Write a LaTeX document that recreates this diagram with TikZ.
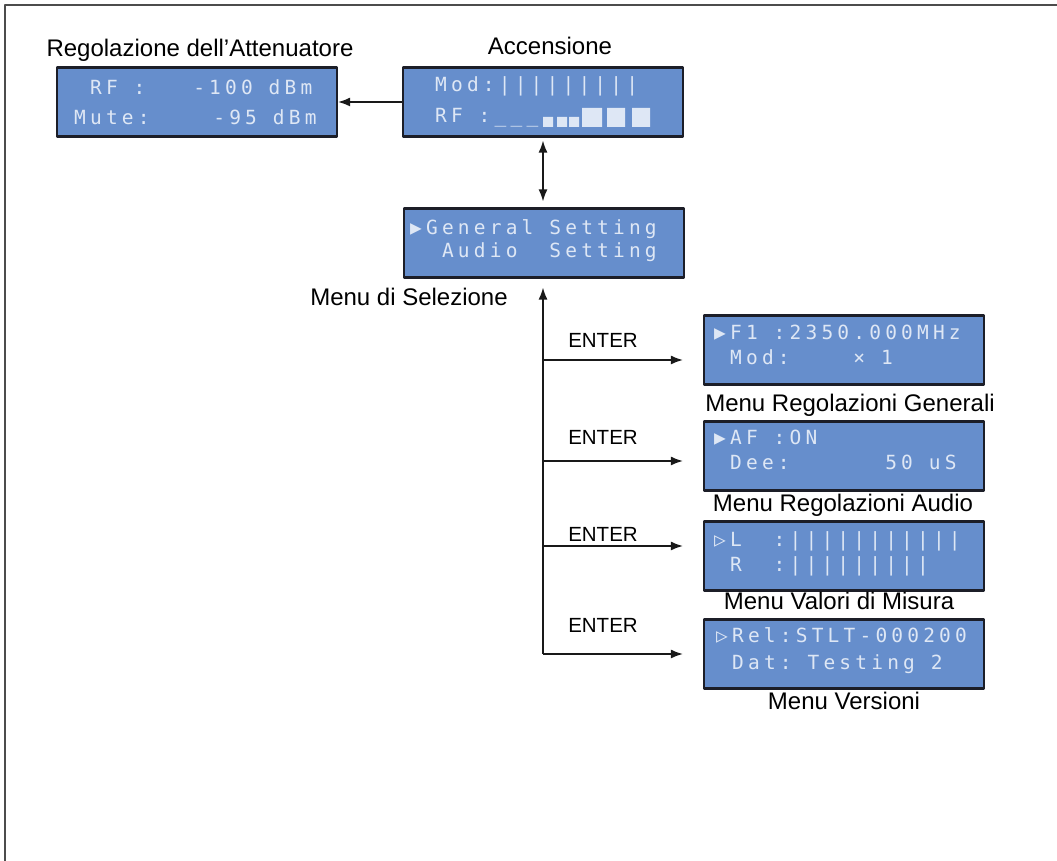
\documentclass[tikz,border=0pt]{standalone}
\usepackage{fontspec}
\setmainfont{Liberation Sans}
\newfontfamily\lcdfont[LetterSpace=21.5]{DejaVu Sans Mono}
\usetikzlibrary{arrows.meta}
\definecolor{lcdblue}{RGB}{102,142,204}
\definecolor{lcdink}{RGB}{222,231,245}
\definecolor{lcdrim}{RGB}{28,30,40}
\begin{document}
\begin{tikzpicture}[>={Latex[length=12bp,width=9bp]},line join=bevel,
  lcd/.style={draw=lcdrim,line width=2.2bp,fill=lcdblue,minimum width=280bp,minimum height=69bp,inner sep=0pt},
  lcdrow/.style={anchor=base west,inner sep=0pt,text=lcdink,font=\lcdfont\fontsize{19.5bp}{22bp}\selectfont},
  caption/.style={anchor=base,inner sep=0pt,font=\fontsize{24bp}{28bp}\selectfont},
  enter/.style={anchor=base,inner sep=0pt,font=\fontsize{20.5bp}{24bp}\selectfont},
  link/.style={draw=black!90,line width=1.4bp}]
\useasboundingbox (0bp,0bp) rectangle (1057bp,861bp);
%%
\draw [black!70,line width=2bp] (5bp,0bp) -- (5bp,856bp) -- (1057bp,856bp);
%%
\node (node_att) at (197bp,759bp) [lcd] {};
  \node (node_acc) at (543bp,759bp) [lcd] {};
  \node (node_sel) at (544bp,618bp) [lcd] {};
  \node (node_gen) at (844bp,511bp) [lcd] {};
  \node (node_aud) at (844bp,405bp) [lcd] {};
  \node (node_val) at (844bp,305bp) [lcd] {};
  \node (node_ver) at (844bp,207bp) [lcd] {};
%
\node (row_att1) at (74bp,766bp) [lcdrow] {~RF~:~~~-100~dBm};
  \node (row_att2) at (74bp,736bp) [lcdrow] {Mute:~~~~-95~dBm};
  \node (row_acc1) at (419bp,769bp) [lcdrow] {~Mod:|||||||||};
  \node (row_acc2) at (419bp,738bp) [lcdrow] {~RF~:\_\_\_};
  \node (row_sel1) at (410bp,626bp) [lcdrow] {▶General~Setting};
  \node (row_sel2) at (410bp,603bp) [lcdrow] {~~Audio~~Setting};
  \node (row_gen1) at (714bp,521bp) [lcdrow] {▶F1~:2350.000MHz};
  \node (row_gen2) at (714bp,496bp) [lcdrow] {~Mod:~~~~×~1};
  \node (row_aud1) at (714bp,416bp) [lcdrow] {▶AF~:ON};
  \node (row_aud2) at (714bp,391bp) [lcdrow] {~Dee:~~~~~~50~uS};
  \node (row_val1) at (714bp,314bp) [lcdrow] {▷L~~:|||||||||||};
  \node (row_val2) at (714bp,289bp) [lcdrow] {~R~~:|||||||||};
  \node (row_ver1) at (716bp,218bp) [lcdrow] {▷Rel:STLT-000200};
  \node (row_ver2) at (716bp,191bp) [lcdrow] {~Dat:~Testing~2};
%
\fill [lcdink] (543bp,734bp) rectangle (553bp,744bp) (557bp,734bp) rectangle (567bp,744bp) (569bp,734bp) rectangle (579bp,744bp);
\fill [lcdink] (582bp,734bp) rectangle (602bp,753bp) (607bp,734bp) rectangle (625bp,753bp) (632bp,734bp) rectangle (650bp,753bp);
%%
\node (cap_att) at (200bp,804bp) [caption] {Regolazione dell’Attenuatore};
  \node (cap_acc) at (550bp,806bp) [caption] {Accensione};
  \node (cap_sel) at (409bp,555bp) [caption] {Menu di Selezione};
  \node (cap_gen) at (850bp,449bp) [caption] {Menu Regolazioni Generali};
  \node (cap_aud) at (843bp,349bp) [caption] {Menu Regolazioni Audio};
  \node (cap_val) at (839bp,251bp) [caption] {Menu Valori di Misura};
  \node (cap_ver) at (844bp,151bp) [caption] {Menu Versioni};
%
\node (key_gen) at (603bp,513bp) [enter] {ENTER};
  \node (key_aud) at (603bp,416bp) [enter] {ENTER};
  \node (key_val) at (603bp,319bp) [enter] {ENTER};
  \node (key_ver) at (603bp,228bp) [enter] {ENTER};
%%
\coordinate (c_0) at (543bp,501bp);
  \coordinate (c_1) at (543bp,400bp);
  \coordinate (c_2) at (543bp,315bp);
  \coordinate (c_3) at (543bp,207bp);
  \draw [link,->] (node_acc.west) -- (node_att.east);
  \draw [link,<->,shorten <=3bp,shorten >=6bp] (node_acc.south) -- (node_acc.south |- node_sel.north);
  \draw [link,->,shorten >=9bp] (c_3) -- (c_3 |- node_sel.south);
  \draw [link,->,shorten >=20bp] (c_0) -- (c_0 -| node_gen.west);
  \draw [link,->,shorten >=20bp] (c_1) -- (c_1 -| node_aud.west);
  \draw [link,->,shorten >=20bp] (c_2) -- (c_2 -| node_val.west);
  \draw [link,->,shorten >=20bp] (c_3) -- (c_3 -| node_ver.west);
%
\end{tikzpicture}
\end{document}
